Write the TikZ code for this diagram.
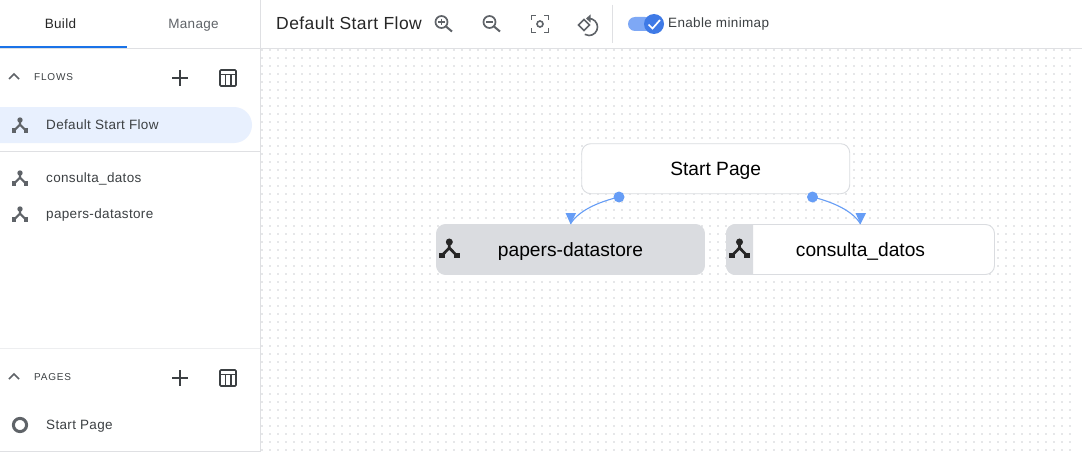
\documentclass[tikz,border=0pt]{standalone}
\usepackage{fontspec}
\setmainfont{Liberation Sans}
\newfontfamily\uifont[LetterSpace=2.5]{Liberation Sans}
\newfontfamily\sectfont[LetterSpace=8]{Liberation Sans}
\definecolor{linegray}{HTML}{DFE0E3}
\definecolor{icongray}{HTML}{5F6368}
\definecolor{darkicon}{HTML}{3C4043}
\definecolor{sel}{HTML}{E8F0FE}
\definecolor{blueline}{HTML}{1A73E8}
\definecolor{conn}{HTML}{669DF6}
\definecolor{nodegray}{HTML}{DADCE0}
\definecolor{dotc}{HTML}{E6E7E9}
\definecolor{knob}{HTML}{3F7AE6}
\definecolor{track}{HTML}{7EA8F5}
\tikzset{
 x=1pt,y=-1pt,
 ui/.style={font=\uifont\fontsize{13.5}{15}\selectfont,text=darkicon,anchor=west,inner sep=0pt},
 sect/.style={font=\sectfont\fontsize{10}{12}\selectfont,text=darkicon,anchor=west,inner sep=0pt},
 card/.style={draw=nodegray,line width=.9pt,rounded corners=9pt,fill=white,minimum width=268pt,minimum height=50pt,anchor=north west,outer sep=0pt},
 cardtext/.style={font=\fontsize{19.2}{22}\selectfont,text=black,inner sep=0pt},
 flowline/.style={conn,line width=1.1pt},
 tip/.style={fill=conn},
}
% flow icon: centre, scale, colour
\newcommand{\flowicon}[3]{%
 \begin{scope}[shift={(#1)},scale=#2]
  \fill[#3] (0,-5) circle (2.7);
  \draw[#3,line width=#2*2.1pt] (0,-4) -- (0,-0.5) -- (-5.5,5.2) (0,-0.5) -- (5.5,5.2);
  \fill[#3] (-8,3.4) rectangle (-3.6,7.6);
  \fill[#3] (3.6,3.4) rectangle (8,7.6);
 \end{scope}}
\newcommand{\tableicon}[1]{%
 \begin{scope}[shift={(#1)}]
  \draw[darkicon,line width=1.6pt,rounded corners=1pt] (-8,-8) rectangle (8,8);
  \draw[darkicon,line width=1.6pt] (-8,-3.5) -- (8,-3.5) (-2.7,-3.5) -- (-2.7,8) (2.7,-3.5) -- (2.7,8);
 \end{scope}}
\newcommand{\plusicon}[1]{%
 \draw[darkicon,line width=1.6pt,shift={(#1)}] (-8,0) -- (8,0) (0,-8) -- (0,8);}
\newcommand{\chevron}[1]{%
 \draw[icongray,line width=1.6pt,shift={(#1)}] (-5,3) -- (0,-2) -- (5,3);}
\begin{document}
\begin{tikzpicture}
\useasboundingbox (0,0) rectangle (1082,452);
\fill[white] (0,0) rectangle (1082,452);
% dotted canvas
\foreach \i in {0,...,101}{\foreach \j in {0,...,50}{
  \fill[dotc] ({261+8*\i},{49+8*\j}) rectangle +(2,2);
}}
% panels
\fill[white] (0,0) rectangle (260.5,452);
\fill[white] (261,0) rectangle (1082,48);
\draw[linegray,line width=1pt] (260.5,0) -- (260.5,452);
\draw[linegray,line width=1pt] (0,48.5) -- (1082,48.5);
\draw[linegray,line width=1pt] (0,151.5) -- (260,151.5);
\fill[linegray!55] (0,347.5) rectangle (260,349);
\draw[linegray,line width=1pt] (0,451.5) -- (260,451.5);
\draw[linegray,line width=1pt] (612.5,5) -- (612.5,43);
\fill[blueline] (0,46.5) rectangle (127,48);
% tabs
\node[ui,anchor=center,text=black!85] (tabbuild) at (60.5,24) {Build};
\node[ui,anchor=center,text=icongray] (tabmanage) at (193.5,25) {Manage};
% flows section
\chevron{14,76}
\node[sect] (flows) at (34,77.5) {FLOWS};
\plusicon{180,78}
\tableicon{228,78}
\begin{scope}
 \clip (0,100) rectangle (260,150);
 \fill[sel,rounded corners=18pt] (-40,107) rectangle (252,143);
\end{scope}
\flowicon{20,125}{1}{icongray}
\node[ui] (dsf) at (46,125) {Default Start Flow};
\flowicon{20,178}{1}{icongray}
\node[ui] (cd) at (46,178.5) {consulta\_datos};
\flowicon{20,214}{1}{icongray}
\node[ui] (pd) at (46,215) {papers-datastore};
% pages section
\chevron{14,376}
\node[sect] (pages) at (34,377.5) {PAGES};
\plusicon{180,378}
\tableicon{228,378}
\draw[icongray,line width=3pt] (20,425) circle (6.6);
\node[ui] (sp) at (46,426) {Start Page};
% toolbar
\node[ui,font=\uifont\fontsize{17.5}{22}\selectfont,text=black!85] (title) at (276,23) {Default Start Flow};
\begin{scope}[shift={(441.5,22)}]
 \draw[icongray,line width=1.7pt] (0,0) circle (6);
 \draw[icongray,line width=2pt] (4.5,4.5) -- (10.5,9.5);
 \draw[icongray,line width=1.5pt] (-3.3,0) -- (3.3,0) (0,-3.3) -- (0,3.3);
\end{scope}
\begin{scope}[shift={(489.5,22)}]
 \draw[icongray,line width=1.7pt] (0,0) circle (6);
 \draw[icongray,line width=2pt] (4.5,4.5) -- (10.5,9.5);
 \draw[icongray,line width=1.5pt] (-3.3,0) -- (3.3,0);
\end{scope}
\begin{scope}[shift={(540,24)}]
 \draw[icongray,line width=1.6pt] (-8.5,-4) -- (-8.5,-8.5) -- (-4,-8.5) (4,-8.5) -- (8.5,-8.5) -- (8.5,-4)
   (8.5,4) -- (8.5,8.5) -- (4,8.5) (-4,8.5) -- (-8.5,8.5) -- (-8.5,4);
 \draw[icongray,line width=1.6pt] (0,0) circle (3);
\end{scope}
\begin{scope}[shift={(584,25)}]
 \draw[icongray,line width=1.6pt] (-5.5,0) -- (0,-5.5) -- (5.5,0) -- (0,5.5) -- cycle;
 \draw[icongray,line width=1.6pt] (5,-6.5) arc[start angle=-90,end angle=120,radius=8.5];
 \fill[icongray] (2,-6.5) -- (6.5,-10.5) -- (6.5,-2.5) -- cycle;
\end{scope}
% toggle
\fill[track,rounded corners=7pt] (628,17) rectangle (652,31);
\fill[knob] (654,24) circle (10);
\draw[white,line width=1.7pt] (648.5,24.5) -- (652.5,28.5) -- (660,20);
\node[ui] (mini) at (668,24.5) {Enable minimap};
% nodes
\node[card] (start) at (581.7,143.7) {};
\node[cardtext] at ([yshift=-2pt]start.center) {Start Page};
\node[card,fill=nodegray] (papers) at (436.5,224.5) {};
\node[cardtext] at ([yshift=-2pt]papers.center) {papers-datastore};
\flowicon{449.3,248.5}{1.3}{black!85}
\node[card] (consulta) at (726.5,224.5) {};
\begin{scope}
 \clip (726,224) rectangle (753,275);
 \node[card,fill=nodegray] at (726.5,224.5) {};
\end{scope}
\node[cardtext] at ([yshift=-2pt]consulta.center) {consulta\_datos};
\flowicon{739.5,248.5}{1.3}{black!85}
% connectors
\coordinate (s1) at (619,197);
\coordinate (s2) at (812.5,197);
\coordinate (t1) at (570.5,224);
\coordinate (t2) at (860.5,224);
\draw[flowline] (s1) .. controls (598,202) and (578,211) .. (t1);
\draw[flowline] (s2) .. controls (833,202) and (853,211) .. (t2);
\fill[conn] (s1) circle (5.5);
\fill[conn] (s2) circle (5.5);
\fill[tip] (t1) -- (565.5,213) -- (576,213) -- cycle;
\fill[tip] (t2) -- (855.5,213) -- (866,213) -- cycle;
\end{tikzpicture}
\end{document}
